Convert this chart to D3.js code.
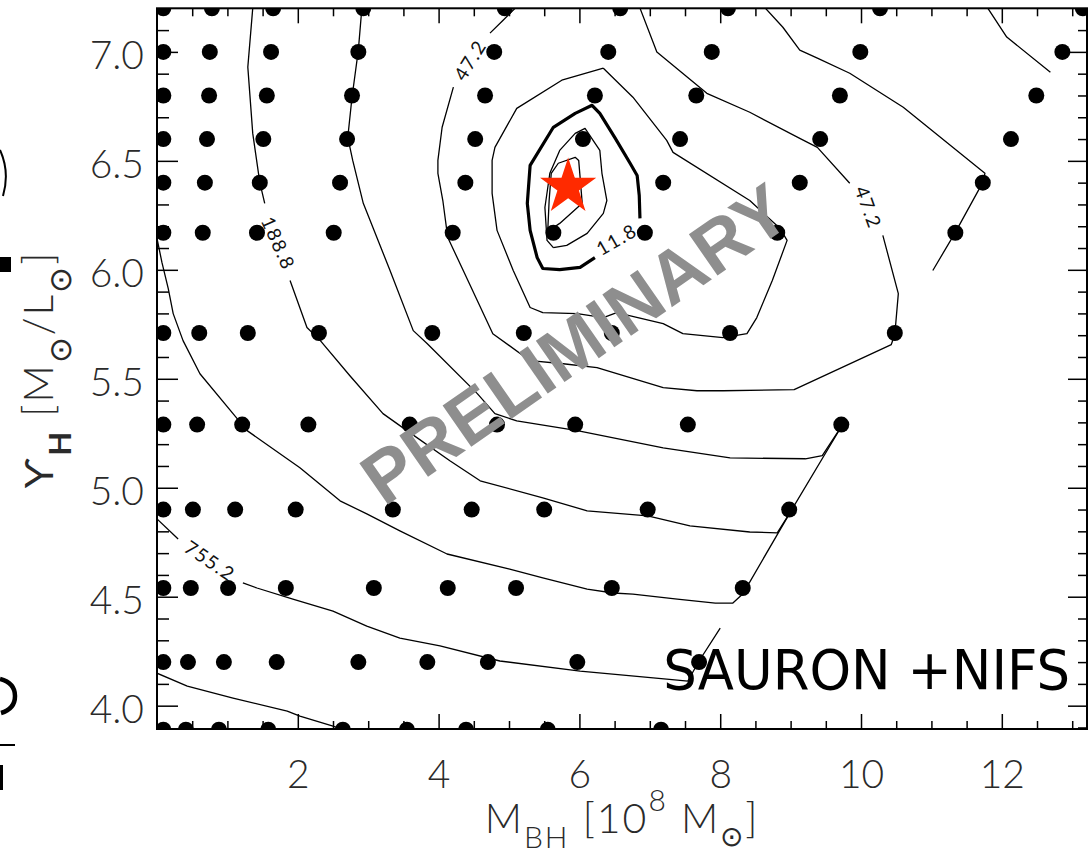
<!DOCTYPE html>
<html><head><meta charset="utf-8">
<script src="https://cdn.jsdelivr.net/npm/d3@7"></script>
<style>
html,body{margin:0;padding:0;background:#fff;}
svg{display:block;}
</style></head><body>
<svg id="chart" width="1092" height="858"></svg>
<script>
// Model grid: each row is one mass-to-light ratio, with the black-hole masses sampled at it
const gridUpsilon = [7.20, 7.00, 6.80, 6.60, 6.40, 6.17, 5.71, 5.29, 4.90, 4.54, 4.20, 3.89];
const gridMass = [
  [0.09, 0.78, 1.65, 2.93, 4.94, 6.58, 8.11, 10.27, 13.15],
  [0.09, 0.75, 1.62, 2.86, 4.79, 6.41, 7.88, 9.99, 12.86],
  [0.09, 0.74, 1.56, 2.77, 4.66, 6.22, 7.66, 9.70, 12.49],
  [0.09, 0.71, 1.51, 2.70, 4.52, 6.05, 7.43, 9.42, 12.13],
  [0.09, 0.68, 1.46, 2.60, 4.38, 5.84, 7.19, 9.13, 11.73],
  [0.09, 0.65, 1.42, 2.51, 4.20, 5.63, 6.93, 8.81, 11.34],
  [0.09, 0.60, 1.29, 2.30, 3.91, 5.21, 6.46, 8.14, 10.48],
  [0.09, 0.57, 1.21, 2.15, 3.59, 4.83, 5.94, 7.54, 9.72],
  [0.09, 0.51, 1.11, 1.97, 3.35, 4.47, 5.50, 6.97, 8.98],
  [0.09, 0.48, 1.01, 1.83, 3.08, 4.13, 5.10, 6.46, 8.32],
  [0.09, 0.44, 0.95, 1.70, 2.86, 3.84, 4.70, 5.97, 7.70],
  [0.09, 0.41, 0.88, 1.58, 2.64, 3.55, 4.39, 5.55, 7.16]
];

// Best-fitting model [M_BH, Upsilon_H]
const bestFit = [5.84, 6.38];

// Chi-square contours, [M_BH, Upsilon_H] vertices
const chi2Inner = [[5.55,6.176],[5.57,6.318],[5.60,6.443],[5.70,6.489],[5.94,6.516],[5.99,6.502],[6.04,6.305],[5.72,6.213],[5.55,6.176]];
const chi2Second = [[5.63,6.102],[5.82,6.112],[6.11,6.167],[6.34,6.259],[6.39,6.318],[6.32,6.443],[6.29,6.548],[6.08,6.649],[5.94,6.626],[5.72,6.548],[5.58,6.443],[5.51,6.286],[5.54,6.135],[5.63,6.102]];
const chi2Level11 = [[6.22,6.056],[6.01,6.011],[5.72,6.001],[5.48,6.006],[5.40,6.056],[5.30,6.181],[5.26,6.305],[5.30,6.479],[5.63,6.654],[5.94,6.718],[6.18,6.755],[6.29,6.718],[6.51,6.603],[6.72,6.489],[6.82,6.433],[6.85,6.341],[6.86,6.236]];
const chi2Level23 = [[6.34,6.925],[6.76,6.792],[7.24,6.594],[7.33,6.539],[8.42,6.318],[8.85,6.190],[8.95,6.135],[8.74,5.951],[8.52,5.781],[8.38,5.707],[8.04,5.689],[7.47,5.707],[7.19,5.753],[6.53,5.804],[6.34,5.781],[5.97,5.799],[5.48,5.804],[5.30,5.827],[5.06,5.997],[4.83,6.181],[4.76,6.351],[4.76,6.502],[4.80,6.562],[5.11,6.741],[5.75,6.870],[6.34,6.925]];
const chi2Level47a = [[5.09,7.201],[4.92,7.146],[4.73,7.086]];
const chi2Level47b = [[4.21,6.838],[4.05,6.654],[3.99,6.502],[3.99,6.443],[4.06,6.318],[4.13,6.148],[4.35,5.997],[4.77,5.707],[5.30,5.583],[5.77,5.569],[6.25,5.551],[7.19,5.459],[7.67,5.445],[8.04,5.445],[9.05,5.450],[10.43,5.657],[10.48,5.703],[10.53,5.891],[10.31,6.158]];
const chi2Level47c = [[9.84,6.397],[9.38,6.562],[9.13,6.603],[8.42,6.723],[7.81,6.810],[7.10,6.999],[6.86,7.201]];
const chi2Level94a = [[2.91,7.201],[2.86,7.008],[2.77,6.792],[2.71,6.608],[2.78,6.502],[2.93,6.305],[3.31,5.997],[3.64,5.721],[3.84,5.661],[4.55,5.432],[4.80,5.340],[5.11,5.307],[5.97,5.262],[7.19,5.183],[8.14,5.137],[9.21,5.133],[9.45,5.147],[9.72,5.280]];
const chi2Level94b = [[8.64,7.201],[8.89,7.113],[9.13,7.008],[9.38,6.971],[9.84,6.902],[10.60,6.746],[11.76,6.443],[11.73,6.401],[11.34,6.172],[11.02,5.997]];
const chi2Level188a = [[1.36,7.201],[1.29,6.930],[1.36,6.626],[1.46,6.401],[1.53,6.305]];
const chi2Level188b = [[1.89,5.951],[2.13,5.735],[2.32,5.675],[2.74,5.514],[3.21,5.340],[3.55,5.262],[4.16,5.124],[4.59,5.032],[5.48,4.954],[6.11,4.894],[6.97,4.871],[7.57,4.825],[8.42,4.797],[8.81,4.793],[8.99,4.885]];
const chi2Level188c = [[11.80,7.201],[12.07,7.068],[12.69,6.907]];
const chi2GridEdge = [[9.72,5.280],[8.99,4.885],[8.32,4.512]];
const chi2Level377 = [[0,6.144],[0.07,6.034],[0.16,5.914],[0.23,5.799],[0.37,5.675],[0.61,5.523],[1.08,5.340],[1.28,5.262],[2.03,5.092],[2.60,4.940],[2.98,4.880],[3.45,4.802],[4.12,4.696],[5.01,4.627],[5.48,4.586],[6.11,4.535],[6.48,4.517],[6.76,4.512],[7.39,4.489],[7.93,4.471],[8.18,4.471],[8.32,4.512]];
const chi2Level755a = [[0,4.857],[0.30,4.765]];
const chi2Level755b = [[1.22,4.563],[1.42,4.540],[1.93,4.489],[2.50,4.434],[2.98,4.365],[3.45,4.310],[4.02,4.274],[4.87,4.205],[6.01,4.159],[7.24,4.122],[7.54,4.113],[7.70,4.205],[8.00,4.356]];
const chi2Level1510 = [[0,4.149],[0.43,4.090],[1.08,4.035],[1.85,3.975],[2.03,3.952],[2.50,3.906],[2.67,3.887]];

const thinContours = [chi2Inner, chi2Second, chi2Level23, chi2Level47a, chi2Level47b, chi2Level47c,
  chi2Level94a, chi2Level94b, chi2Level188a, chi2Level188b, chi2Level188c, chi2GridEdge,
  chi2Level377, chi2Level755a, chi2Level755b, chi2Level1510];
const thickContours = [chi2Level11];

// Contour level labels: text, position, angle
const labelText = ["47.2", "47.2", "188.8", "755.2", "11.8"];
const labelMass = [4.45, 10.10, 1.72, 0.75, 6.53];
const labelUpsilon = [6.962, 6.286, 6.121, 4.664, 6.139];
const labelAngle = [-58, 70, 66, 34, -30];

// Axis ticks
const xTickValues = [2, 4, 6, 8, 10, 12];
const xTickLabels = ["2", "4", "6", "8", "10", "12"];
const yTickValues = [4.0, 4.5, 5.0, 5.5, 6.0, 6.5, 7.0];
const yTickLabels = ["4.0", "4.5", "5.0", "5.5", "6.0", "6.5", "7.0"];

const svg = d3.select("#chart");
svg.append("rect").attr("width", 1092).attr("height", 858).attr("fill", "#fff");

const plotLeft = 157, plotRight = 1087, plotTop = 8.3, plotBottom = 729;
const x = d3.scaleLinear().domain([0, 13.21]).range([plotLeft, plotRight]);
const y = d3.scaleLinear().domain([3.893, 7.2]).range([plotBottom, plotTop]);

const defs = svg.append("defs");
defs.append("clipPath").attr("id", "plotClip")
  .append("rect").attr("x", plotLeft).attr("y", plotTop)
  .attr("width", plotRight - plotLeft).attr("height", plotBottom - plotTop);

const plot = svg.append("g").attr("clip-path", "url(#plotClip)");
const line = d3.line().x(d => x(d[0])).y(d => y(d[1]));

plot.selectAll("path.thin").data(thinContours).join("path")
  .attr("class", "thin").attr("d", line)
  .attr("fill", "none").attr("stroke", "#000").attr("stroke-width", 1.3).attr("stroke-linejoin", "round");
plot.selectAll("path.thick").data(thickContours).join("path")
  .attr("class", "thick").attr("d", line)
  .attr("fill", "none").attr("stroke", "#000").attr("stroke-width", 3.2).attr("stroke-linejoin", "round");

plot.selectAll("text.clabel").data(labelText).join("text")
  .attr("class", "clabel")
  .attr("transform", (d, i) => `translate(${x(labelMass[i])},${y(labelUpsilon[i])}) rotate(${labelAngle[i]})`)
  .attr("text-anchor", "middle").attr("dy", "0.35em")
  .attr("font-family", "Lato, 'DejaVu Sans', sans-serif").attr("font-size", 19)
  .attr("letter-spacing", 1.5).attr("fill", "#111")
  .text(d => d);

// Model points
const points = [];
gridUpsilon.forEach((u, r) => gridMass[r].forEach(m => points.push([m, u])));
plot.selectAll("circle.model").data(points).join("circle")
  .attr("class", "model")
  .attr("cx", d => x(d[0])).attr("cy", d => y(d[1])).attr("r", 8).attr("fill", "#000");

// Watermark
plot.append("text")
  .attr("transform", `translate(${x(6.14)},${y(5.565)}) rotate(-34.8)`)
  .attr("text-anchor", "middle")
  .attr("font-family", "'Liberation Sans', Arial, sans-serif").attr("font-weight", "bold")
  .attr("font-size", 73).attr("fill", "#8e8e8e")
  .text("PRELIMINARY");

// Best fit
plot.append("path")
  .attr("d", d3.symbol(d3.symbolStar).size(980)())
  .attr("transform", `translate(${x(bestFit[0])},${y(bestFit[1])})`)
  .attr("fill", "#ff2a00");

// Data set annotation
svg.append("text")
  .attr("x", x(7.19)).attr("y", y(4.076))
  .attr("font-family", "'DejaVu Sans', sans-serif").attr("font-size", 55)
  .attr("textLength", 407).attr("lengthAdjust", "spacingAndGlyphs")
  .attr("fill", "#000")
  .text("SAURON +NIFS");

// Axes: ticks point inward on all four sides
const tickFont = g => g.selectAll("text")
  .attr("font-family", "Lato, 'DejaVu Sans', sans-serif").attr("font-weight", 300)
  .attr("font-size", 39).attr("fill", "#2a2a2a");
const styleAxis = g => { g.select(".domain").remove(); g.selectAll("line").attr("stroke", "#000").attr("stroke-width", 1.5); };

const xMinor = d3.range(1, 27).map(i => i * 0.5).filter(v => v % 2 !== 0);
const yMinor = d3.range(39, 73).map(i => i / 10).filter(v => Math.abs(v * 2 - Math.round(v * 2)) > 1e-6);

svg.append("g").attr("transform", `translate(0,${plotBottom})`)
  .call(d3.axisBottom(x).tickValues(xTickValues).tickSize(-15).tickPadding(31).tickFormat((d, i) => xTickLabels[i]))
  .call(styleAxis).call(tickFont);
svg.append("g").attr("transform", `translate(0,${plotBottom})`)
  .call(d3.axisBottom(x).tickValues(xMinor).tickSize(-8).tickFormat(""))
  .call(styleAxis);
svg.append("g").attr("transform", `translate(0,${plotTop})`)
  .call(d3.axisTop(x).tickValues(xTickValues).tickSize(-15).tickFormat(""))
  .call(styleAxis);
svg.append("g").attr("transform", `translate(0,${plotTop})`)
  .call(d3.axisTop(x).tickValues(xMinor).tickSize(-8).tickFormat(""))
  .call(styleAxis);

svg.append("g").attr("transform", `translate(${plotLeft},0)`)
  .call(d3.axisLeft(y).tickValues(yTickValues).tickSize(-21).tickPadding(13).tickFormat((d, i) => yTickLabels[i]))
  .call(styleAxis).call(tickFont)
  .call(g => g.selectAll("text").attr("dy", "0.42em"));
svg.append("g").attr("transform", `translate(${plotLeft},0)`)
  .call(d3.axisLeft(y).tickValues(yMinor).tickSize(-12).tickFormat(""))
  .call(styleAxis);
svg.append("g").attr("transform", `translate(${plotRight},0)`)
  .call(d3.axisRight(y).tickValues(yTickValues).tickSize(-19).tickFormat(""))
  .call(styleAxis);
svg.append("g").attr("transform", `translate(${plotRight},0)`)
  .call(d3.axisRight(y).tickValues(yMinor).tickSize(-9).tickFormat(""))
  .call(styleAxis);

svg.append("rect")
  .attr("x", plotLeft).attr("y", plotTop)
  .attr("width", plotRight - plotLeft).attr("height", plotBottom - plotTop)
  .attr("fill", "none").attr("stroke", "#000").attr("stroke-width", 2);

// Axis titles
const titleFont = "Lato, 'DejaVu Sans', sans-serif";
const symFont = "'DejaVu Sans', sans-serif";
const xt = svg.append("text")
  .attr("x", (plotLeft + plotRight) / 2).attr("y", 833)
  .attr("text-anchor", "middle").attr("font-family", titleFont).attr("font-weight", 300)
  .attr("font-size", 41).attr("letter-spacing", 2).attr("fill", "#2a2a2a");
xt.append("tspan").text("M");
xt.append("tspan").attr("dy", 15).attr("font-size", 30).text("BH");
xt.append("tspan").attr("dy", -15).text(" [10");
xt.append("tspan").attr("dy", -22).attr("font-size", 30).text("8");
xt.append("tspan").attr("dy", 22).text(" M");
xt.append("tspan").attr("dy", 13).attr("font-size", 28).attr("font-family", symFont).attr("font-weight", 200).text("\u2299");
xt.append("tspan").attr("dy", -13).text("]");

const yt = svg.append("text")
  .attr("transform", "translate(53,370) rotate(-90)")
  .attr("text-anchor", "middle").attr("font-family", titleFont).attr("font-weight", 300)
  .attr("font-size", 41).attr("letter-spacing", 2).attr("fill", "#2a2a2a");
yt.append("tspan").attr("font-family", symFont).attr("font-weight", 200).text("\u03D2");
yt.append("tspan").attr("dy", 18).attr("font-size", 31).attr("font-weight", 700).text("H");
yt.append("tspan").attr("dy", -18).text(" [M");
yt.append("tspan").attr("dy", 18).attr("font-size", 31).attr("font-family", symFont).attr("font-weight", 200).text("\u2299");
yt.append("tspan").attr("dy", -18).text("/L");
yt.append("tspan").attr("dy", 18).attr("font-size", 31).attr("font-family", symFont).attr("font-weight", 200).text("\u2299");
yt.append("tspan").attr("dy", -18).text("]");

// Clipped edge of the adjacent panel's lettering along the left border
const edge = svg.append("g").attr("fill", "none").attr("stroke", "#000");
edge.append("path").attr("d", "M0,150 Q10,172 3,196").attr("stroke-width", 2);
edge.append("rect").attr("x", 0).attr("y", 257).attr("width", 11).attr("height", 15).attr("fill", "#000").attr("stroke", "none");
edge.append("path").attr("d", "M0,679 Q15,683 15,696 Q15,709 1,713").attr("stroke-width", 4.5);
edge.append("path").attr("d", "M0,745 L15,745").attr("stroke-width", 2);
edge.append("path").attr("d", "M1.5,765 L1.5,790").attr("stroke-width", 3);
</script>
</body></html>
